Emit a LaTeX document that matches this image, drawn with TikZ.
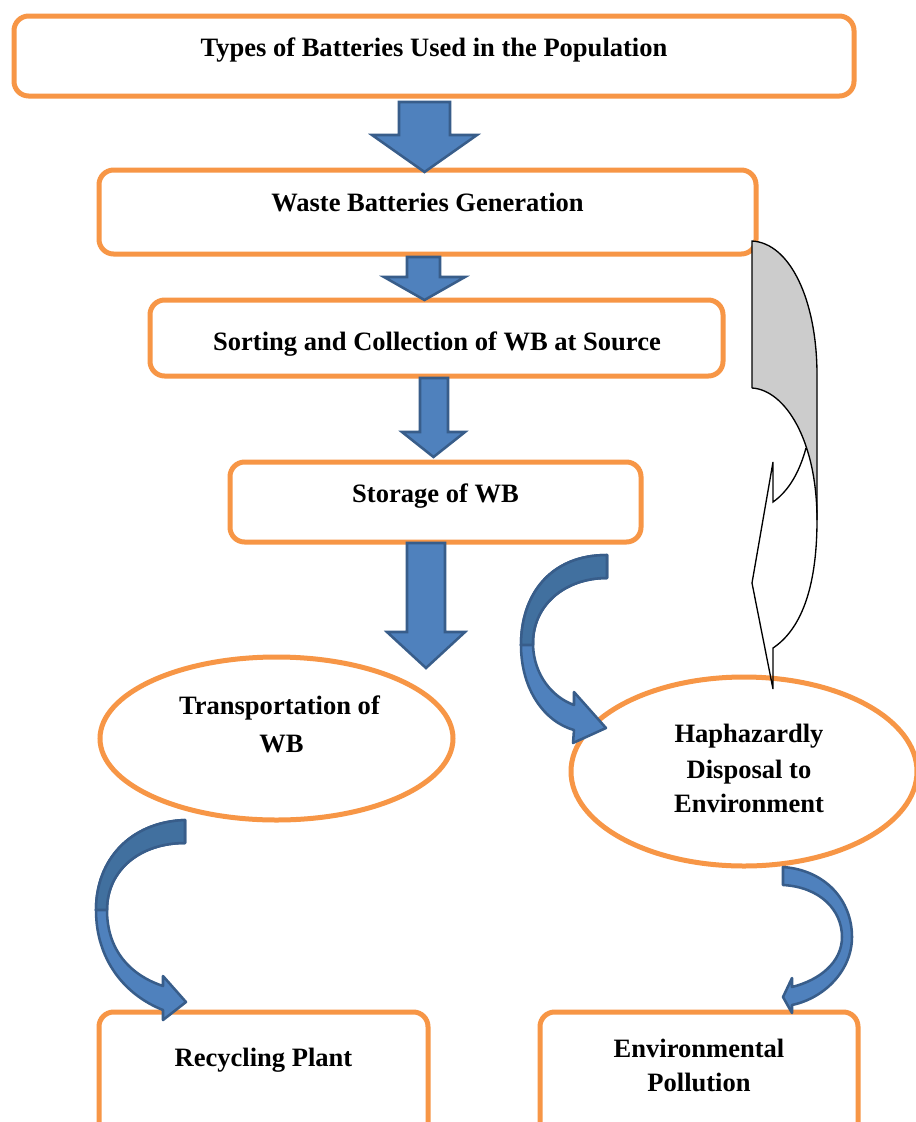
\documentclass[tikz,border=0pt]{standalone}
\usepackage{fontspec}
\setmainfont{Liberation Serif}
\usetikzlibrary{shapes.geometric}
\definecolor{orng}{HTML}{F79646}
\definecolor{bfill}{HTML}{4F81BD}
\definecolor{bdark}{HTML}{41709F}
\definecolor{bline}{HTML}{385D8A}
\definecolor{gfill}{HTML}{CCCCCC}
\tikzset{
  obox/.style={draw=orng, line width=3.75pt, rounded corners=11pt, rectangle, fill=white, inner sep=0pt},
  oell/.style={draw=orng, line width=3.75pt, ellipse, fill=white, inner sep=0pt},
  txt/.style={anchor=base, inner sep=0pt, font=\fontsize{19.9}{26}\selectfont\bfseries},
  barrow/.style={draw=bline, line width=1.9pt, fill=bfill, line join=miter},
  cdark/.style={draw=bline, line width=1.9pt, fill=bdark, line join=round},
  clight/.style={draw=bline, line width=1.9pt, fill=bfill, line join=round},
  gshape/.style={draw=black, line width=1pt, line join=miter}
}
\begin{document}
\begin{tikzpicture}[x=0.75pt, y=-0.75pt]
\path[use as bounding box, clip] (0,0) rectangle (916,1122);
\fill[white] (0,0) rectangle (916,1122);
% boxes
\node (b1) [obox, minimum width=630pt, minimum height=60pt] at (434,56) {};
\node (b2) [obox, minimum width=492.75pt, minimum height=63pt] at (427.5,212) {};
\node (b3) [obox, minimum width=429.75pt, minimum height=57pt] at (436.5,338) {};
\node (b4) [obox, minimum width=308.25pt, minimum height=60pt] at (435.5,502) {};
\node (e1) [oell, minimum width=264.75pt, minimum height=122.25pt] at (276.5,738.5) {};
\node (e2) [oell, minimum width=259.5pt, minimum height=141.75pt] at (744,771.5) {};
\node (b7) [obox, minimum width=246.75pt, minimum height=111pt] at (263.5,1086) {};
\node (b8) [obox, minimum width=238.5pt, minimum height=111pt] at (699,1086) {};
% texts
\node (t1) [txt] at (434,56) {Types of Batteries Used in the Population};
\node (t2) [txt] at (427.5,211) {Waste Batteries Generation};
\node (t3) [txt] at (437,350) {Sorting and Collection of WB at Source};
\node (t4) [txt] at (435.5,502) {Storage of WB};
\node (t5a) [txt] at (279.5,714) {Transportation of};
\node (t5b) [txt] at (281.5,752) {WB};
\node (t6a) [txt] at (749,742) {Haphazardly};
\node (t6b) [txt] at (749,778) {Disposal to};
\node (t6c) [txt] at (749,812) {Environment};
\node (t7) [txt] at (263.5,1066) {Recycling Plant};
\node (t8a) [txt] at (699,1057) {Environmental};
\node (t8b) [txt] at (699,1091) {Pollution};
% block arrows
\draw[barrow] (399,102) -- (450,102) -- (450,135) -- (477,135) -- (424.5,172) -- (372,135) -- (399,135) -- cycle;
\draw[barrow] (407,257) -- (440,257) -- (440,277) -- (465,277) -- (424.5,300) -- (384,277) -- (407,277) -- cycle;
\draw[barrow] (420,378) -- (448,378) -- (448,432) -- (465,432) -- (433.5,457) -- (402,432) -- (420,432) -- cycle;
\draw[barrow] (407,543) -- (445,543) -- (445,632) -- (465,632) -- (426,668) -- (387,632) -- (407,632) -- cycle;
% curved arrow: storage -> haphazardly
\draw[clight] (607,555) .. controls (550,555) and (521,595) .. (521,645)
  .. controls (521,690) and (545,722) .. (574,730) -- (573,743) -- (606,728) -- (574,692) -- (574,705)
  .. controls (552,697) and (534,675) .. (533,645)
  .. controls (532,605) and (565,578) .. (607,578) -- cycle;
\draw[cdark] (607,555) .. controls (550,555) and (521,595) .. (521,645) -- (533,645)
  .. controls (532,605) and (565,578) .. (607,578) -- cycle;
% curved arrow: transportation -> recycling
\draw[clight] (185,820) .. controls (130,822) and (96,860) .. (96,910)
  .. controls (96,960) and (125,995) .. (163,1010) -- (163,1020) -- (186,1002) -- (163,976) -- (163,986)
  .. controls (130,975) and (107,950) .. (107,910)
  .. controls (107,870) and (140,843) .. (185,843) -- cycle;
\draw[cdark] (185,820) .. controls (130,822) and (96,860) .. (96,910) -- (107,910)
  .. controls (107,870) and (140,843) .. (185,843) -- cycle;
% curved arrow: haphazardly -> pollution
\draw[clight] (783,867) .. controls (825,870) and (852,900) .. (852,937)
  .. controls (852,970) and (825,998) .. (792,1005) -- (792,1013) -- (783,997) -- (792,978) -- (792,987)
  .. controls (820,980) and (842,962) .. (842,937)
  .. controls (842,910) and (820,887) .. (783,885) -- cycle;
% gray shape
\fill[gfill] (752,241) .. controls (790,243) and (817,300) .. (817,375) -- (817,520)
  .. controls (817,440) and (785,390) .. (752,388) -- cycle;
\draw[gshape] (752,388) -- (752,241) .. controls (790,243) and (817,300) .. (817,375) -- (817,520);
\draw[gshape] (752,388) .. controls (785,390) and (817,440) .. (817,520)
  .. controls (817,590) and (800,630) .. (773,648) -- (773,689) -- (752,583) -- (773,462) -- (773,502)
  .. controls (790,490) and (800,470) .. (806,448);
\end{tikzpicture}
\end{document}
